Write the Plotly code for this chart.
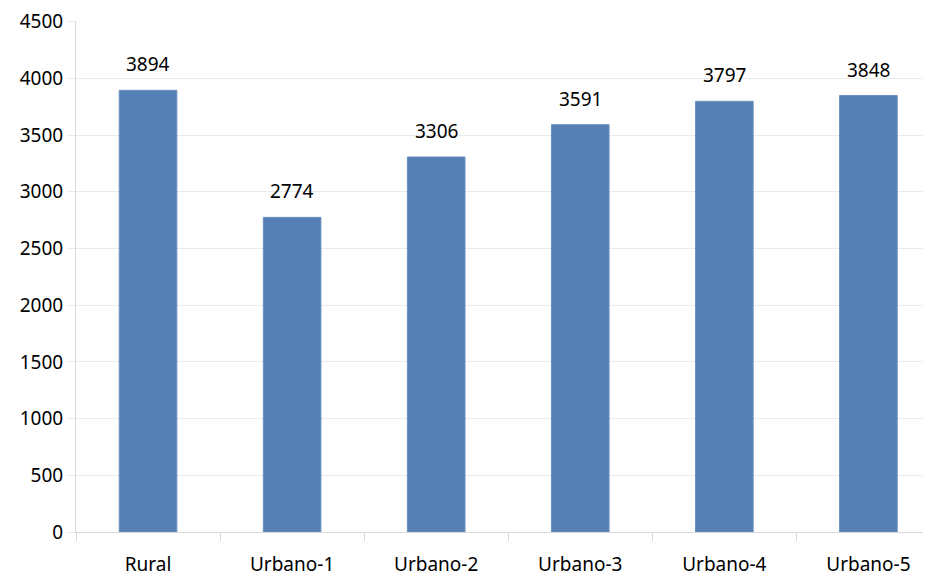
import plotly.graph_objects as go

categories = ["Rural", "Urbano-1", "Urbano-2", "Urbano-3", "Urbano-4", "Urbano-5"]
values = [3894, 2774, 3306, 3591, 3797, 3848]
y_ticks = [0, 500, 1000, 1500, 2000, 2500, 3000, 3500, 4000, 4500]

FONT = "Noto Sans"

fig = go.Figure()
fig.add_trace(go.Bar(
    x=categories, y=values, width=0.4,
    marker=dict(color="#557fb3", line=dict(color="#6b90c0", width=1)),
    hoverinfo="skip",
))
for c, v in zip(categories, values):
    fig.add_annotation(x=c, y=v, text=str(v), showarrow=False,
                       yanchor="bottom", yshift=11,
                       font=dict(family=FONT, size=19, color="#000000"))

fig.update_layout(
    width=931, height=576,
    margin=dict(l=68, r=0, t=13, b=52),
    paper_bgcolor="white", plot_bgcolor="white",
    showlegend=False,
    font=dict(family=FONT, size=19, color="#000000"),
    bargap=0.6,
)
fig.update_xaxes(
    range=[-0.5, 5.49], showgrid=False,
    showline=True, linecolor="#d9d9d9", linewidth=1,
    ticks="outside", tickson="boundaries", ticklen=8, tickcolor="#d9d9d9",
    ticklabelstandoff=15,
    tickfont=dict(family=FONT, size=19), fixedrange=True,
)
fig.update_yaxes(
    range=[0, 4505], tickvals=y_ticks,
    showgrid=True, gridcolor="#ebebeb", gridwidth=1,
    showline=True, linecolor="#d9d9d9", linewidth=1,
    ticks="outside", ticklen=8, tickcolor="#ebebeb",
    ticklabeloverflow="allow",
    tickfont=dict(family=FONT, size=19), zeroline=False,
)
fig.write_html("out.html")
